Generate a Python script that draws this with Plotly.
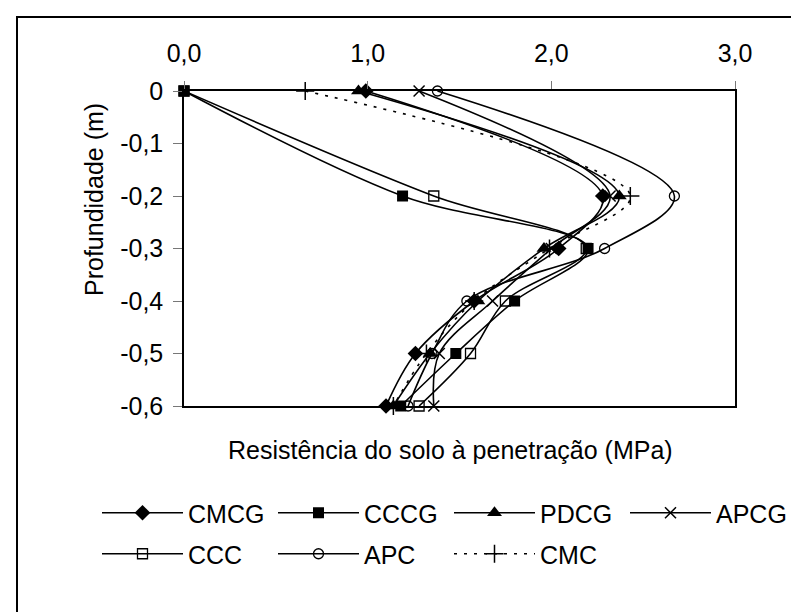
import plotly.graph_objects as go

depth = [0, -0.2, -0.3, -0.4, -0.5, -0.6]

cmcg = [0.99, 2.28, 2.04, 1.58, 1.26, 1.10]
cccg = [0.00, 1.19, 2.20, 1.80, 1.48, 1.18]
pdcg = [0.95, 2.37, 1.96, 1.60, 1.34, 1.14]
apcg = [1.28, 2.32, 2.00, 1.68, 1.39, 1.36]
ccc = [0.00, 1.36, 2.19, 1.75, 1.56, 1.28]
apc = [1.38, 2.67, 2.29, 1.54, 1.35, 1.22]
cmc = [0.66, 2.43, 1.99, 1.58, 1.32, 1.14]

x_tickvals = [0, 1, 2, 3]
x_ticktext = ["0,0", "1,0", "2,0", "3,0"]
y_tickvals = [0, -0.1, -0.2, -0.3, -0.4, -0.5, -0.6]
y_ticktext = ["0", "-0,1", "-0,2", "-0,3", "-0,4", "-0,5", "-0,6"]

FONT = "Liberation Sans, Arial, sans-serif"

# plot area in pixels
L, R, T, B = 176, 727, 83, 398
PW, PH = R - L, B - T


def px(xp):
    return (xp - L) / PW


def py(yp):
    return (B - yp) / PH


series = [
    ("CMCG", cmcg, dict(symbol="diamond", size=12, color="black"), "solid", "legend"),
    ("CCCG", cccg, dict(symbol="square", size=11, color="black"), "solid", "legend"),
    ("PDCG", pdcg, dict(symbol="triangle-up", size=13, color="black"), "solid", "legend"),
    ("APCG", apcg, dict(symbol="x-thin-open", size=11, color="black", line=dict(width=1.5, color="black")), "solid", "legend"),
    ("CCC", ccc, dict(symbol="square-open", size=10, color="black", line=dict(width=1.3, color="black")), "solid", "legend2"),
    ("APC", apc, dict(symbol="circle-open", size=10, color="black", line=dict(width=1.3, color="black")), "solid", "legend2"),
    ("CMC", cmc, dict(symbol="cross-thin-open", size=13, color="black", line=dict(width=1.5, color="black")), "3px,7px", "legend2"),
]

fig = go.Figure()
for name, vals, marker, dash, leg in series:
    fig.add_trace(go.Scatter(
        x=vals, y=depth, name=name, mode="lines+markers",
        line=dict(color="black", width=1.6, shape="spline", smoothing=1, dash=dash),
        marker=marker, cliponaxis=False, legend=leg,
    ))

legend_common = dict(
    orientation="h", xanchor="left", yanchor="top",
    font=dict(size=25, family=FONT, color="black"),
    itemwidth=81, entrywidth=80, entrywidthmode="pixels",
    traceorder="normal", bgcolor="rgba(0,0,0,0)",
)

fig.update_layout(
    width=799, height=612,
    margin=dict(l=L, r=799 - R, t=T, b=612 - B, autoexpand=False),
    paper_bgcolor="white", plot_bgcolor="white",
    font=dict(family=FONT, size=25, color="black"),
    showlegend=True,
    legend=dict(x=px(89), y=py(482), **legend_common),
    legend2=dict(x=px(89), y=py(523), **legend_common),
    xaxis=dict(
        side="top", range=[0, 3], tickvals=x_tickvals, ticktext=x_ticktext,
        showgrid=False, zeroline=False, showline=True, linecolor="black", linewidth=1.5,
        mirror=True, ticks="outside", ticklen=8, tickcolor="#777", tickwidth=1,
        tickfont=dict(size=25, family=FONT), ticklabelstandoff=9,
    ),
    yaxis=dict(
        range=[-0.6, 0], tickvals=y_tickvals, ticktext=y_ticktext,
        showgrid=False, zeroline=False, showline=True, linecolor="black", linewidth=1.5,
        mirror=True, ticks="outside", ticklen=9, tickcolor="#777", tickwidth=1,
        tickfont=dict(size=25, family=FONT), ticklabelstandoff=5,
    ),
    annotations=[
        dict(
            text="Resistência do solo à penetração (MPa)", xref="paper", yref="paper",
            x=px(442), y=py(442), xanchor="center", yanchor="middle", showarrow=False,
            font=dict(size=25, family=FONT),
        ),
        dict(
            text="Profundidade (m)", xref="paper", yref="paper", textangle=-90,
            x=px(86), y=py(192), xanchor="center", yanchor="middle", showarrow=False,
            font=dict(size=25, family=FONT),
        ),
    ],
    shapes=[dict(
        type="rect", xref="paper", yref="paper",
        x0=px(9), x1=px(797), y0=py(611), y1=py(9),
        line=dict(color="black", width=2), layer="below",
    )],
)

fig.write_html("out.html")
